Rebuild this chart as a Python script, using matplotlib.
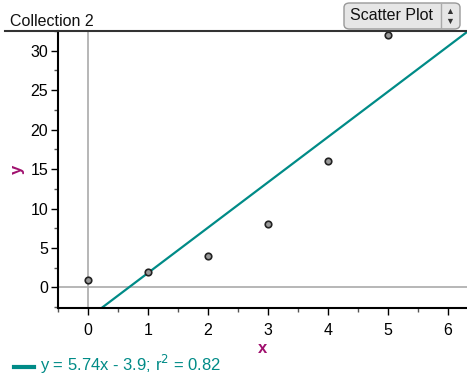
import numpy as np
import matplotlib.pyplot as plt
from matplotlib.patches import FancyBboxPatch
from matplotlib.lines import Line2D
from matplotlib.ticker import MultipleLocator

plt.rcParams['font.family'] = ['Liberation Sans', 'DejaVu Sans']

# data
x = [0, 1, 2, 3, 4, 5]
y = [1, 2, 4, 8, 16, 32]
slope = 5.74
intercept = -3.9
r2 = 0.82

teal = '#008b87'
magenta = '#a0106e'

fig = plt.figure(figsize=(4.67, 3.77), dpi=100)
ax = fig.add_axes([58/467, 1 - 308/377, 1 - 58/467, (308 - 31)/377])

ax.set_xlim(-0.5, 6.32)
ax.set_ylim(-2.6, 32.5)

ax.axhline(0, color='#aaaaaa', lw=1.2, zorder=1)
ax.axvline(0, color='#aaaaaa', lw=1.2, zorder=1)

xl = np.array(ax.get_xlim())
ax.plot(xl, slope * xl + intercept, color=teal, lw=1.6, zorder=2)
ax.scatter(x, y, s=22, facecolor='#999999', edgecolor='#222222', linewidth=1.2, zorder=3, clip_on=False)

for s in ['top', 'right']:
    ax.spines[s].set_visible(False)
for s in ['left', 'bottom']:
    ax.spines[s].set_linewidth(1.5)

ax.xaxis.set_major_locator(MultipleLocator(1))
ax.xaxis.set_minor_locator(MultipleLocator(0.5))
ax.yaxis.set_major_locator(MultipleLocator(5))
ax.yaxis.set_minor_locator(MultipleLocator(2.5))
ax.tick_params(which='major', length=5, width=1, labelsize=11.5, pad=2)
ax.tick_params(which='minor', length=3, width=1, color='#555555')
ax.tick_params(axis='x', pad=6)

ax.set_xlabel('x', color=magenta, fontsize=12, fontweight='bold', labelpad=2)
ax.set_ylabel('y', color=magenta, fontsize=12, fontweight='bold', labelpad=4)

# header
fig.add_artist(Line2D([5/467, 1], [1 - 31/377] * 2, color='#333333', lw=1.5))
fig.text(10/467, 1 - 26/377, 'Collection 2', fontsize=11.5, color='#111111')
btn = FancyBboxPatch((344/467, 1 - 29/377), 116/467, 26/377,
                     boxstyle='round,pad=0,rounding_size=0.012',
                     transform=fig.transFigure, facecolor='#e6e6e6',
                     edgecolor='#999999', lw=1)
fig.add_artist(btn)
fig.add_artist(Line2D([441/467] * 2, [1 - 28/377, 1 - 4/377], color='#aaaaaa', lw=1))
fig.text(391/467, 1 - 16/377, 'Scatter Plot', fontsize=11.5, ha='center', va='center', color='#111111')
fig.text(450/467, 1 - 12/377, '\u25b2', fontsize=6.5, ha='center', va='center', color='#333333')
fig.text(450/467, 1 - 21/377, '\u25bc', fontsize=6.5, ha='center', va='center', color='#333333')

# legend
fig.add_artist(Line2D([14/467, 34/467], [1 - 367/377] * 2, color=teal, lw=3))
fig.text(40/467, 1/377, f'y = {slope}x - {-intercept}; r$^2$ = {r2}', fontsize=12, color=teal, va='bottom')

fig.savefig('out.png', dpi=100)
